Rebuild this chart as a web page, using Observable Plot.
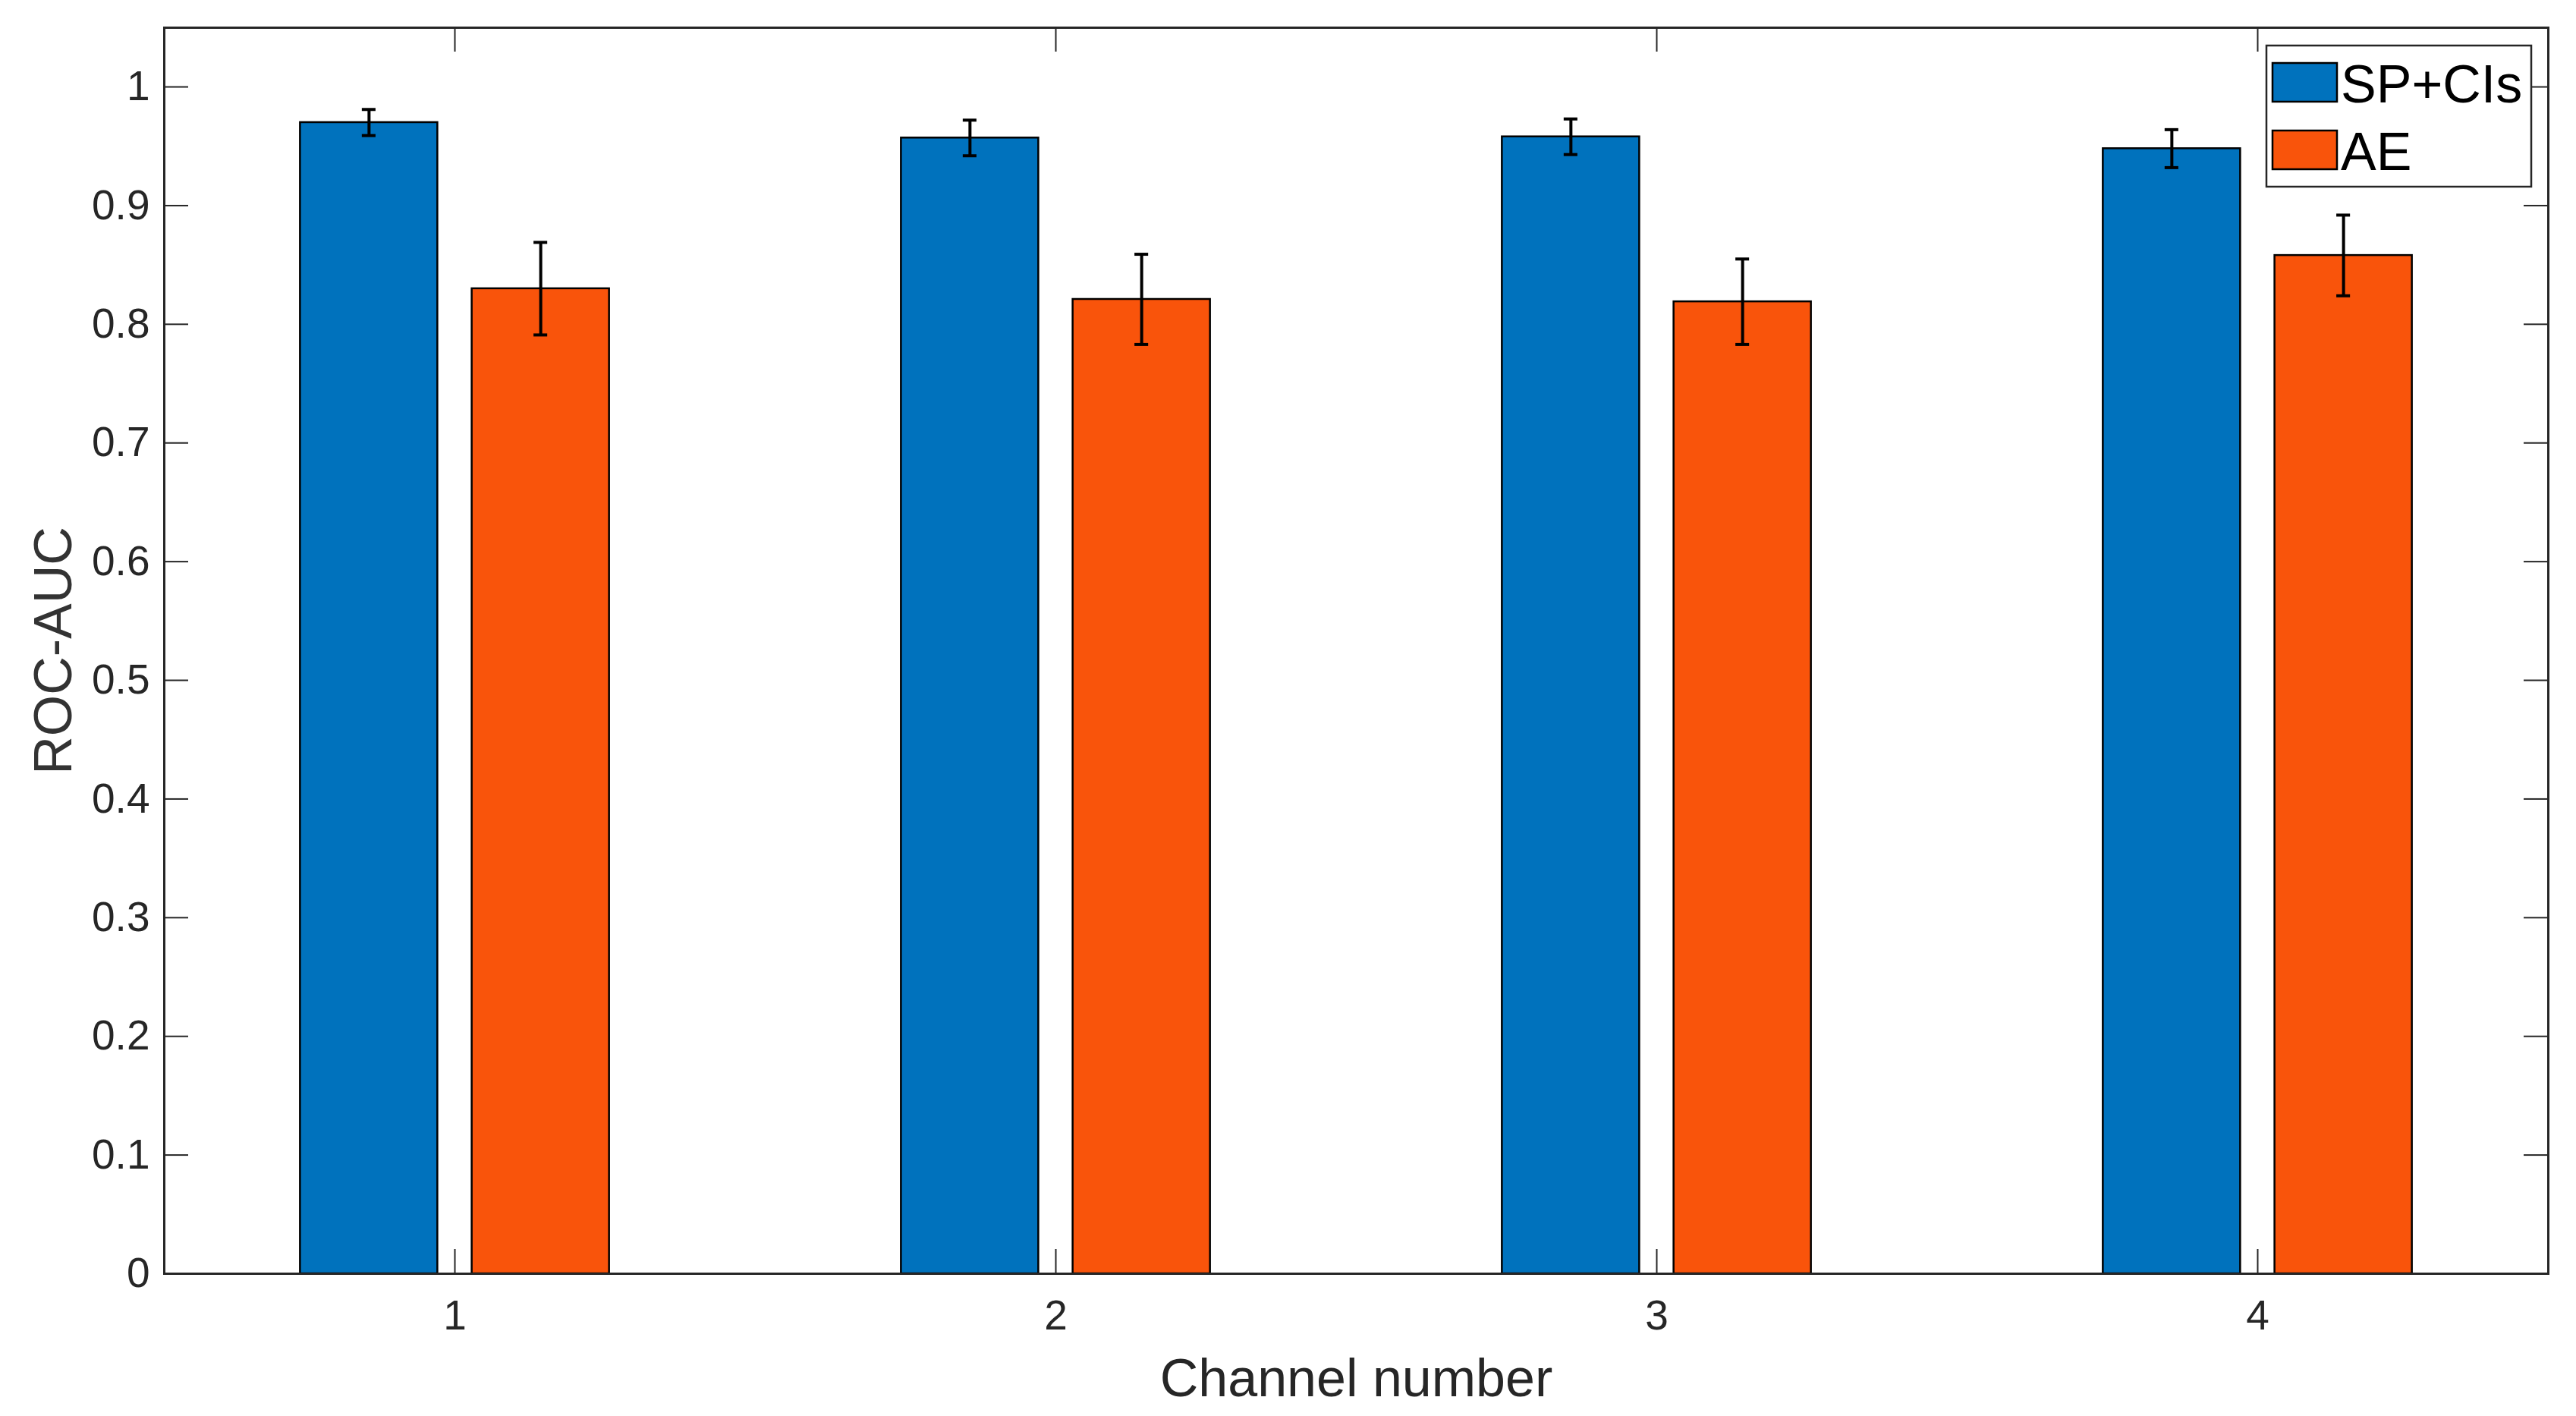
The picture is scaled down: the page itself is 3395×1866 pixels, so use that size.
<!DOCTYPE html>
<html>
<head>
<meta charset="utf-8">
<script src="https://cdn.jsdelivr.net/npm/d3@7"></script>
<script src="https://cdn.jsdelivr.net/npm/@observablehq/plot@0.6"></script>
<style>
  html, body { margin: 0; padding: 0; background: #fff; }
  #wrap { position: relative; width: 3395px; height: 1866px; }
  #wrap svg { position: absolute; left: 0; top: 0; }
</style>
</head>
<body>
<div id="wrap"></div>
<script>
// ---- data ----
const channels = [1, 2, 3, 4];
const seriesNames = ["SP+CIs", "AE"];
const seriesColors = ["#0072BD", "#F9540B"];
const spValues = [0.970, 0.957, 0.958, 0.948];
const spErrors = [0.011, 0.015, 0.015, 0.016];
const aeValues = [0.830, 0.821, 0.819, 0.858];
const aeErrors = [0.039, 0.038, 0.036, 0.034];
const xTicks = [1, 2, 3, 4];
const yTicks = [0, 0.1, 0.2, 0.3, 0.4, 0.5, 0.6, 0.7, 0.8, 0.9, 1];
const yTickLabels = ["0", "0.1", "0.2", "0.3", "0.4", "0.5", "0.6", "0.7", "0.8", "0.9", "1"];
const xLabel = "Channel number";
const yLabel = "ROC-AUC";

// ---- layout ----
const W = 3395, H = 1866;
const mL = 216, mR = 37, mT = 36, mB = 188;
const plotW = W - mL - mR, plotH = H - mT - mB;
const groupWidth = 2 / 3.5;           // MATLAB grouped bar layout
const barW = 0.8 * groupWidth / 2;
const capHalf = 0.0114;
const tickLen = 32;
const axisColor = "#262626";

const valuesBySeries = [spValues, aeValues];
const errorsBySeries = [spErrors, aeErrors];
const rows = [];
seriesNames.forEach((s, i) => {
  channels.forEach((c, j) => {
    rows.push({
      series: s,
      center: c + (i - 0.5) * groupWidth / 2,
      value: valuesBySeries[i][j],
      err: errorsBySeries[i][j]
    });
  });
});

const chart = Plot.plot({
  width: W,
  height: H,
  marginLeft: mL, marginRight: mR, marginTop: mT, marginBottom: mB,
  style: { fontFamily: "Liberation Sans, Arial, sans-serif", fontSize: "55px", color: axisColor, background: "transparent" },
  x: { domain: [0.5164, 4.4836] },
  y: { domain: [0, 1.0499] },
  color: { domain: seriesNames, range: seriesColors },
  marks: [
    Plot.rect(rows, {
      x1: d => d.center - barW / 2,
      x2: d => d.center + barW / 2,
      y1: 0,
      y2: "value",
      fill: "series",
      stroke: "black",
      strokeWidth: 2.5
    }),
    Plot.ruleX(rows, { x: "center", y1: d => d.value - d.err, y2: d => d.value + d.err, stroke: "black", strokeWidth: 4 }),
    Plot.ruleY(rows, { y: d => d.value + d.err, x1: d => d.center - capHalf, x2: d => d.center + capHalf, stroke: "black", strokeWidth: 4 }),
    Plot.ruleY(rows, { y: d => d.value - d.err, x1: d => d.center - capHalf, x2: d => d.center + capHalf, stroke: "black", strokeWidth: 4 }),
    // inward tick marks on all four sides
    Plot.tickY(yTicks, { y: d => d, insetRight: plotW - tickLen, stroke: axisColor, strokeWidth: 2 }),
    Plot.tickY(yTicks, { y: d => d, insetLeft: plotW - tickLen, stroke: axisColor, strokeWidth: 2 }),
    Plot.tickX(xTicks, { x: d => d, insetTop: plotH - tickLen, stroke: axisColor, strokeWidth: 2 }),
    Plot.tickX(xTicks, { x: d => d, insetBottom: plotH - tickLen, stroke: axisColor, strokeWidth: 2 }),
    Plot.axisY({ ticks: yTicks, tickFormat: d => yTickLabels[yTicks.indexOf(d)], tickSize: 0, tickPadding: 19, label: null, fontSize: 55 }),
    Plot.axisX({ ticks: xTicks, tickFormat: d => String(d), tickSize: 0, tickPadding: 34, label: null, fontSize: 55 }),
    Plot.text([xLabel], { text: d => d, frameAnchor: "bottom", textAnchor: "middle", lineAnchor: "bottom", dy: 161, fontSize: 70, fill: axisColor }),
    Plot.text([yLabel], { text: d => d, frameAnchor: "left", textAnchor: "middle", lineAnchor: "bottom", rotate: -90, dx: -123, fontSize: 70, fill: "#333" }),
    Plot.frame({ stroke: axisColor, strokeWidth: 3 })
  ]
});

const wrap = document.getElementById("wrap");
wrap.appendChild(chart);

// ---- legend overlay (inside the axes, top-right) ----
const lg = d3.select(wrap).append("svg")
  .attr("width", W).attr("height", H)
  .style("pointer-events", "none")
  .attr("font-family", "Liberation Sans, Arial, sans-serif");
lg.append("rect")
  .attr("x", 2987).attr("y", 60).attr("width", 349).attr("height", 186)
  .attr("fill", "white").attr("stroke", axisColor).attr("stroke-width", 2.5);
seriesNames.forEach((s, i) => {
  const y0 = 83 + i * 89;
  lg.append("rect")
    .attr("x", 2995).attr("y", y0).attr("width", 85).attr("height", 51)
    .attr("fill", seriesColors[i]).attr("stroke", "black").attr("stroke-width", 2.5);
  lg.append("text")
    .attr("x", 3085).attr("y", y0 + 52)
    .attr("font-size", 70).attr("fill", "black")
    .text(s);
});
</script>
</body>
</html>
